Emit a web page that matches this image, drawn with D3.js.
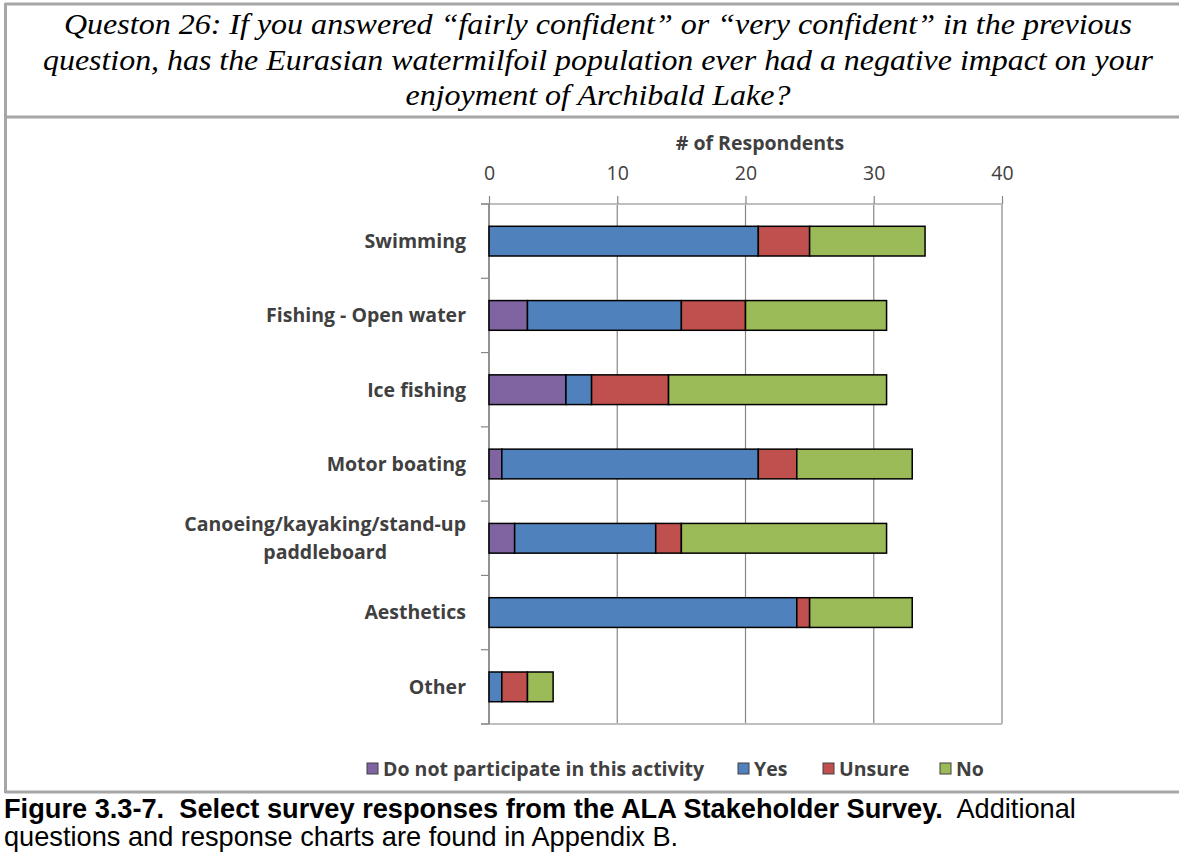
<!DOCTYPE html>
<html><head><meta charset="utf-8">
<script src="https://cdn.jsdelivr.net/npm/d3@7"></script>
<style>
body{margin:0;background:#fff;}
svg{display:block;}
</style></head>
<body>
<svg id="c" width="1179" height="852"></svg>
<script>
const categories = ["Swimming","Fishing - Open water","Ice fishing","Motor boating","Canoeing/kayaking/stand-up paddleboard","Aesthetics","Other"];
const seriesNames = ["Do not participate in this activity","Yes","Unsure","No"];
const doNotParticipate = [0,3,6,1,2,0,0];
const yes = [21,12,2,20,11,24,1];
const unsure = [4,5,6,3,2,1,2];
const no = [9,11,17,9,16,8,2];
const xTicks = [0,10,20,30,40];
const colors = ["#8064A2","#4F81BD","#C0504D","#9BBB59"];

(function(){
const svg = d3.select("#c");
const SANS = "'Open Sans',Lato,sans-serif";
const FS = 19.5;

// frame
const frame = svg.append("g");
frame.append("line").attr("x1",5).attr("x2",1179).attr("y1",4).attr("y2",4).attr("stroke","#a6a6a6").attr("stroke-width",3);
frame.append("line").attr("x1",5).attr("x2",1179).attr("y1",117).attr("y2",117).attr("stroke","#a6a6a6").attr("stroke-width",3);
frame.append("line").attr("x1",5).attr("x2",1179).attr("y1",792).attr("y2",792).attr("stroke","#a6a6a6").attr("stroke-width",3);
frame.append("line").attr("x1",5.5).attr("x2",5.5).attr("y1",3).attr("y2",793).attr("stroke","#a6a6a6").attr("stroke-width",3);

// title
const titleLines = ["Queston 26: If you answered \u201cfairly confident\u201d or \u201cvery confident\u201d in the previous",
 "question, has the Eurasian watermilfoil population ever had a negative impact on your",
 "enjoyment of Archibald Lake?"];
const titleW = [1068,1110,385];
svg.append("g").selectAll("text").data(titleLines).join("text")
 .attr("x",598).attr("y",(d,i)=>34+i*35.5)
 .attr("text-anchor","middle")
 .attr("font-family","'Liberation Serif','Times New Roman',serif")
 .attr("font-style","italic").attr("font-size",30).attr("fill","#000")
 .attr("textLength",(d,i)=>titleW[i]).attr("lengthAdjust","spacingAndGlyphs")
 .text(d=>d);

// chart
const pL=489,pR=1002,pT=204,pB=724;
const x = d3.scaleLinear().domain([0,40]).range([pL,pR]);
const y = d3.scaleBand().domain(categories).range([pT,pB]).paddingInner(0.6).paddingOuter(0.3);
const yb = d3.scaleBand().domain(categories).range([pT,pB]);

const g = svg.append("g");
// gridlines
g.selectAll("line.grid").data(xTicks).join("line")
 .attr("x1",d=>x(d)).attr("x2",d=>x(d)).attr("y1",pT).attr("y2",pB)
 .attr("stroke","#868686").attr("stroke-width",1.2);
// top axis
const xAxis = d3.axisTop(x).tickValues(xTicks).tickSize(8).tickPadding(16).tickFormat(d3.format("d"));
const ax = g.append("g").attr("transform",`translate(0,${pT})`).call(xAxis);
ax.select(".domain").attr("stroke","#BFBFBF").attr("stroke-width",2).attr("d",`M${pL-8},0H${pR}`);
ax.selectAll(".tick line").attr("stroke","#868686").attr("stroke-width",1.2);
ax.selectAll("text").attr("font-family",SANS).attr("font-size",FS).attr("fill","#404040").attr("dy","0");
// bottom axis line
g.append("line").attr("x1",pL-8).attr("x2",pR).attr("y1",pB).attr("y2",pB).attr("stroke","#BFBFBF").attr("stroke-width",2);
// left axis with ticks at band boundaries
const bounds = categories.map(c=>yb(c)).concat([pB]);
g.selectAll("line.ytick").data(bounds).join("line")
 .attr("x1",pL-8).attr("x2",pL).attr("y1",d=>d).attr("y2",d=>d)
 .attr("stroke","#868686").attr("stroke-width",1.2);
g.append("line").attr("x1",pL).attr("x2",pL).attr("y1",pT).attr("y2",pB).attr("stroke","#868686").attr("stroke-width",1.5);

// stacked bars
const rows = categories.map((c,i)=>({cat:c, dnp:doNotParticipate[i], yes:yes[i], unsure:unsure[i], no:no[i]}));
const stack = d3.stack().keys(["dnp","yes","unsure","no"])(rows);
g.selectAll("g.series").data(stack).join("g").attr("fill",(d,i)=>colors[i])
 .selectAll("rect").data(d=>d.filter(p=>p[1]-p[0]>0)).join("rect")
 .attr("x",d=>x(d[0])).attr("width",d=>x(d[1])-x(d[0]))
 .attr("y",d=>y(d.data.cat)).attr("height",y.bandwidth())
 .attr("stroke","#000").attr("stroke-width",1.5);

// category labels
const catLabels = g.append("g");
categories.forEach(c=>{
  const cy = yb(c)+yb.bandwidth()/2;
  const lines = c==="Canoeing/kayaking/stand-up paddleboard" ? ["Canoeing/kayaking/stand-up","paddleboard"] : [c];
  const t = catLabels.append("text").attr("font-family",SANS).attr("font-weight","bold")
    .attr("font-size",FS).attr("fill","#404040");
  if(lines.length===1){
    t.attr("x",466).attr("y",cy).attr("dy","0.35em").attr("text-anchor","end").text(lines[0]);
  } else {
    t.attr("x",466).attr("y",cy-14).attr("dy","0.35em").attr("text-anchor","end").text(lines[0]);
    const w = t.node().getComputedTextLength();
    catLabels.append("text").attr("font-family",SANS).attr("font-weight","bold")
    .attr("font-size",FS).attr("fill","#404040")
    .attr("x",466-w/2).attr("y",cy+14).attr("dy","0.35em").attr("text-anchor","middle").text(lines[1]);
  }
});

// axis title
svg.append("text").attr("x",760).attr("y",150).attr("text-anchor","middle")
 .attr("font-family",SANS).attr("font-weight","bold").attr("font-size",FS).attr("fill","#404040")
 .text("# of Respondents");

// legend
const legX = [367,738,823,940];
const leg = svg.append("g");
seriesNames.forEach((n,i)=>{
  leg.append("rect").attr("x",legX[i]).attr("y",763).attr("width",11).attr("height",11)
    .attr("fill",colors[i]).attr("stroke","#404040").attr("stroke-width",1);
  leg.append("text").attr("x",legX[i]+16).attr("y",776)
    .attr("font-family",SANS).attr("font-weight","bold").attr("font-size",FS).attr("fill","#404040")
    .text(n);
});

// caption
const cap = svg.append("text").attr("x",4).attr("y",818)
 .attr("font-family","'Liberation Sans',Arial,sans-serif").attr("font-size",27.2).attr("fill","#000");
cap.append("tspan").attr("font-weight","bold").text("Figure 3.3-7.\u00a0 Select survey responses from the ALA Stakeholder Survey.");
cap.append("tspan").text("\u00a0 Additional");
svg.append("text").attr("x",4).attr("y",846)
 .attr("font-family","'Liberation Sans',Arial,sans-serif").attr("font-size",27.2).attr("fill","#000")
 .text("questions and response charts are found in Appendix B.");
})();
</script>
</body></html>
